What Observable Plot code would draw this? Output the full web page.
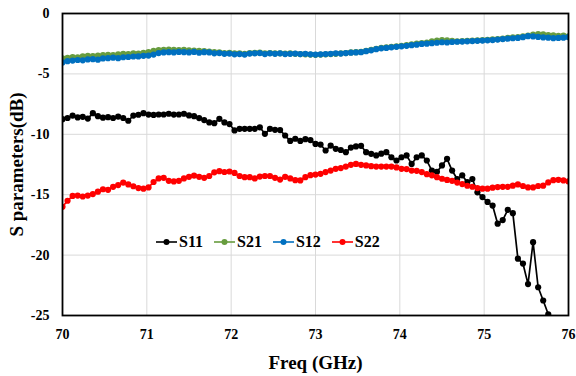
<!DOCTYPE html>
<html>
<head>
<meta charset="utf-8">
<script src="https://cdn.jsdelivr.net/npm/d3@7"></script>
<script src="https://cdn.jsdelivr.net/npm/@observablehq/plot@0.6"></script>
<style>
  html, body { margin: 0; padding: 0; background: #fff; }
  #wrap { position: relative; width: 576px; height: 376px; font-family: "Liberation Serif", "Times New Roman", serif; }
  #legend { position: absolute; left: 156px; top: 233px; display: flex; align-items: center; gap: 11px; font-weight: bold; font-size: 16px; }
  .item { display: flex; align-items: center; gap: 2px; }
</style>
</head>
<body>
<div id="wrap"></div>
<script>
const freq = [70.00,70.06,70.12,70.18,70.24,70.30,70.36,70.42,70.48,70.54,70.60,70.66,70.72,70.78,70.84,70.90,70.96,71.02,71.08,71.14,71.20,71.26,71.32,71.38,71.44,71.50,71.56,71.62,71.68,71.74,71.80,71.86,71.92,71.98,72.04,72.10,72.16,72.22,72.28,72.34,72.40,72.46,72.52,72.58,72.64,72.70,72.76,72.82,72.88,72.94,73.00,73.06,73.12,73.18,73.24,73.30,73.36,73.42,73.48,73.54,73.60,73.66,73.72,73.78,73.84,73.90,73.96,74.02,74.08,74.14,74.20,74.26,74.32,74.38,74.44,74.50,74.56,74.62,74.68,74.74,74.80,74.86,74.92,74.98,75.04,75.10,75.16,75.22,75.28,75.34,75.40,75.46,75.52,75.58,75.64,75.70,75.76,75.82,75.88,75.94,76.00];

const s11 = [-8.75,-8.65,-8.45,-8.6,-8.55,-8.7,-8.25,-8.5,-8.62,-8.58,-8.65,-8.53,-8.65,-8.88,-8.45,-8.38,-8.25,-8.37,-8.4,-8.36,-8.36,-8.3,-8.37,-8.36,-8.3,-8.44,-8.5,-8.66,-8.82,-9.02,-9.08,-8.72,-9.02,-9.15,-9.68,-9.55,-9.55,-9.55,-9.55,-9.42,-9.96,-9.55,-9.63,-9.65,-10.1,-10.55,-10.37,-10.55,-10.4,-10.48,-10.8,-10.85,-11.34,-10.93,-11.2,-11.3,-11.48,-11.1,-11.0,-10.95,-11.48,-11.62,-11.75,-11.6,-11.48,-11.9,-12.17,-11.9,-11.75,-12.45,-11.9,-11.75,-12.17,-13.0,-13.1,-12.58,-12.03,-13.0,-13.7,-13.4,-13.96,-13.7,-14.8,-15.2,-15.6,-15.9,-17.4,-17.1,-16.25,-16.53,-20.3,-20.7,-22.4,-18.93,-22.66,-23.76,-24.9,null,null,null,null];

const s21 = [-3.72,-3.68,-3.6,-3.62,-3.55,-3.5,-3.52,-3.48,-3.45,-3.42,-3.44,-3.38,-3.35,-3.36,-3.3,-3.32,-3.25,-3.2,-3.1,-3.02,-3.0,-2.98,-3.0,-3.02,-3.0,-3.05,-3.08,-3.1,-3.12,-3.15,-3.2,-3.22,-3.28,-3.26,-3.3,-3.3,-3.34,-3.28,-3.26,-3.24,-3.3,-3.28,-3.3,-3.3,-3.32,-3.3,-3.34,-3.36,-3.38,-3.4,-3.42,-3.4,-3.38,-3.36,-3.34,-3.3,-3.28,-3.22,-3.2,-3.18,-3.1,-3.0,-2.92,-2.84,-2.8,-2.76,-2.72,-2.68,-2.62,-2.56,-2.5,-2.45,-2.4,-2.3,-2.24,-2.2,-2.22,-2.26,-2.3,-2.28,-2.26,-2.25,-2.22,-2.2,-2.18,-2.15,-2.12,-2.08,-2.02,-1.98,-1.95,-1.9,-1.82,-1.75,-1.7,-1.72,-1.78,-1.8,-1.85,-1.82,-1.9];

const s12 = [-4.05,-3.95,-3.9,-3.85,-3.88,-3.8,-3.78,-3.82,-3.72,-3.7,-3.66,-3.7,-3.62,-3.6,-3.56,-3.55,-3.5,-3.48,-3.4,-3.28,-3.22,-3.2,-3.22,-3.18,-3.2,-3.22,-3.18,-3.25,-3.2,-3.22,-3.3,-3.28,-3.34,-3.32,-3.38,-3.36,-3.4,-3.32,-3.3,-3.28,-3.36,-3.3,-3.34,-3.3,-3.36,-3.34,-3.32,-3.36,-3.34,-3.38,-3.4,-3.38,-3.36,-3.34,-3.3,-3.32,-3.28,-3.24,-3.22,-3.2,-3.12,-3.05,-2.95,-2.88,-2.85,-2.8,-2.76,-2.72,-2.68,-2.62,-2.58,-2.52,-2.5,-2.46,-2.42,-2.38,-2.4,-2.36,-2.34,-2.32,-2.3,-2.28,-2.26,-2.24,-2.22,-2.2,-2.16,-2.12,-2.08,-2.05,-2.02,-1.96,-1.88,-1.9,-1.94,-1.98,-2.0,-2.04,-2.02,-2.0,-1.96];

const s22 = [-16.0,-15.5,-15.1,-15.07,-15.15,-15.07,-14.95,-14.75,-14.55,-14.6,-14.35,-14.2,-14.0,-14.15,-14.3,-14.45,-14.5,-14.4,-13.95,-13.65,-13.6,-13.85,-13.9,-13.85,-13.65,-13.52,-13.42,-13.52,-13.6,-13.45,-13.15,-13.05,-13.12,-13.08,-13.2,-13.45,-13.55,-13.55,-13.65,-13.5,-13.45,-13.45,-13.6,-13.75,-13.52,-13.65,-13.8,-13.82,-13.55,-13.38,-13.33,-13.27,-13.13,-13.0,-12.86,-12.8,-12.67,-12.53,-12.45,-12.53,-12.58,-12.64,-12.67,-12.67,-12.67,-12.67,-12.74,-12.86,-12.88,-13.0,-13.02,-13.13,-13.3,-13.4,-13.55,-13.68,-13.78,-13.85,-14.0,-14.12,-14.26,-14.34,-14.45,-14.5,-14.5,-14.42,-14.37,-14.35,-14.35,-14.25,-14.15,-14.28,-14.4,-14.4,-14.28,-14.25,-13.98,-13.8,-13.77,-13.82,-13.9];

const seriesNames = ["S11", "S21", "S12", "S22"];
const seriesColors = ["#000000", "#679C3E", "#0070C0", "#FF0000"];
const seriesValues = [s11, s21, s12, s22];

const xTicks = [70, 71, 72, 73, 74, 75, 76];
const yTicks = [0, -5, -10, -15, -20, -25];
const xLabel = "Freq (GHz)";
const yLabel = "S parameters(dB)";

const font = "Liberation Serif, Times New Roman, serif";

const marks = [
  Plot.gridX(xTicks, {stroke: "#d9d9d9", strokeOpacity: 1, strokeWidth: 1}),
  Plot.gridY(yTicks, {stroke: "#d9d9d9", strokeOpacity: 1, strokeWidth: 1}),
];
seriesValues.forEach((vals, k) => {
  const rows = freq.map((f, i) => ({f, v: vals[i]})).filter(d => d.v !== null);
  marks.push(Plot.line(rows, {x: "f", y: "v", stroke: seriesColors[k], strokeWidth: 1.7, clip: true}));
  marks.push(Plot.dot(rows, {x: "f", y: "v", fill: seriesColors[k], r: 3.1, clip: true}));
});
marks.push(
  Plot.frame({stroke: "#000", strokeWidth: 1.8}),
  Plot.axisX(xTicks, {tickSize: 0, tickPadding: 14, tickFormat: d => `${d}`, fontSize: 14, fontWeight: "bold", label: null}),
  Plot.axisY(yTicks, {tickSize: 0, tickPadding: 13, tickFormat: d => `${d}`, fontSize: 14, fontWeight: "bold", label: null}),
  Plot.text([xLabel], {text: d => d, frameAnchor: "bottom", dy: 47, lineAnchor: "middle", textAnchor: "middle", fontSize: 19, fontWeight: "bold", fill: "#000"}),
  Plot.text([yLabel], {text: d => d, frameAnchor: "left", dx: -46, rotate: -90, lineAnchor: "middle", textAnchor: "middle", fontSize: 19, fontWeight: "bold", fill: "#000"})
);

const chart = Plot.plot({
  width: 576,
  height: 376,
  marginLeft: 62,
  marginRight: 8,
  marginTop: 13,
  marginBottom: 61,
  style: {fontFamily: font, color: "#000", background: "#fff", overflow: "visible"},
  x: {domain: [70, 76]},
  y: {domain: [-25, 0]},
  marks
});

const wrap = document.getElementById("wrap");
wrap.appendChild(chart);

const legend = document.createElement("div");
legend.id = "legend";
seriesNames.forEach((name, k) => {
  const item = document.createElement("div");
  item.className = "item";
  item.innerHTML = `<svg width="21" height="10"><line x1="0" y1="5" x2="21" y2="5" stroke="${seriesColors[k]}" stroke-width="1.6"/><circle cx="10.5" cy="5" r="3" fill="${seriesColors[k]}"/></svg><span>${name}</span>`;
  legend.appendChild(item);
});
wrap.appendChild(legend);
</script>
</body>
</html>
